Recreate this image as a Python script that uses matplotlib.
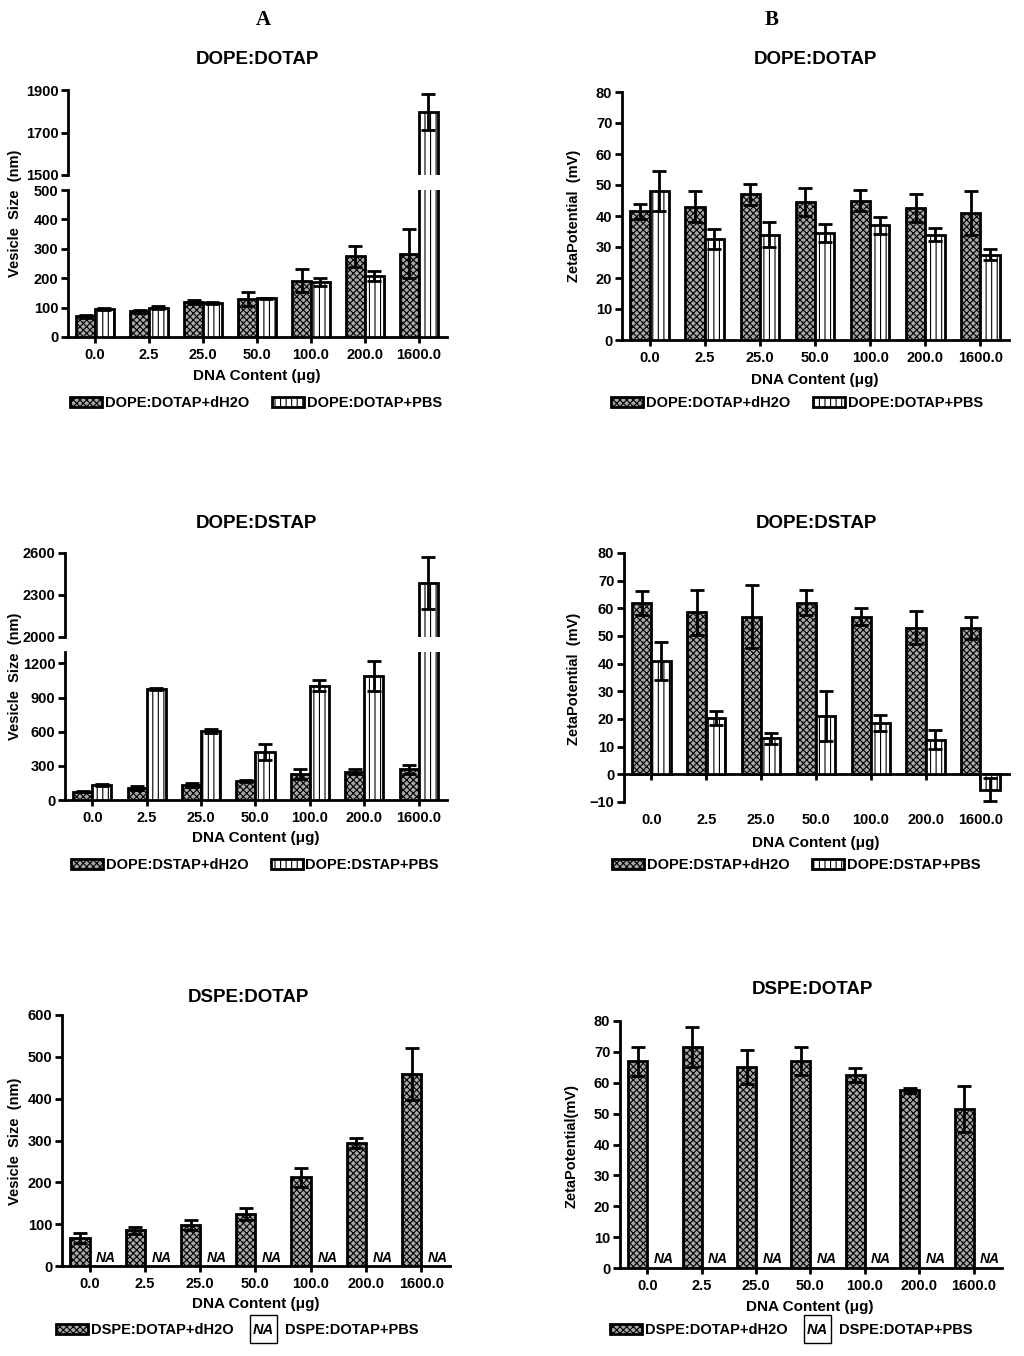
import matplotlib
matplotlib.use("Agg")
import numpy as np
import matplotlib.pyplot as plt
from matplotlib.patches import Patch, Rectangle
from matplotlib.legend_handler import HandlerBase
from matplotlib.text import Text

W, H = 1024, 1356

categories = ["0.0", "2.5", "25.0", "50.0", "100.0", "200.0", "1600.0"]

# A: vesicle size (nm)
dotap_size_h2o = [70, 87, 119, 130, 192, 274, 283]
dotap_size_h2o_err = [5, 5, 6, 23, 40, 37, 83]
dotap_size_pbs = [95, 99, 116, 132, 187, 208, 1797]
dotap_size_pbs_err = [4, 5, 4, 2, 12, 18, 85]

dstap_size_h2o = [72, 105, 130, 170, 228, 249, 270]
dstap_size_h2o_err = [6, 15, 15, 10, 40, 22, 40]
dstap_size_pbs = [135, 975, 606, 418, 1004, 1089, 2384]
dstap_size_pbs_err = [8, 10, 20, 70, 50, 135, 185]

dspe_size_h2o = [67, 85, 97, 124, 212, 294, 460]
dspe_size_h2o_err = [13, 9, 12, 15, 22, 13, 62]

# B: zeta potential (mV)
dotap_zeta_h2o = [41.5, 43, 47, 44.5, 45, 42.5, 41]
dotap_zeta_h2o_err = [2.5, 5, 3.3, 4.5, 3.5, 4.5, 7]
dotap_zeta_pbs = [48, 32.5, 34, 34.5, 37, 34, 27.5]
dotap_zeta_pbs_err = [6.5, 3.3, 4, 3, 2.8, 2, 1.8]

dstap_zeta_h2o = [62, 58.5, 57, 62, 57, 53, 53]
dstap_zeta_h2o_err = [4.3, 8, 11.5, 4.5, 3, 6, 4]
dstap_zeta_pbs = [41, 20.5, 13, 21, 18.5, 12.5, -5.5]
dstap_zeta_pbs_err = [7, 2.5, 2, 9, 3, 3.5, 4]

dspe_zeta_h2o = [67, 71.5, 65, 67, 62.5, 57.5, 51.5]
dspe_zeta_h2o_err = [4.7, 6.5, 5.5, 4.5, 2.2, 0.8, 7.3]

BAR_W = 0.35
H2O_FACE = "#a6a6a6"
H2O_HATCH = "xxxxx"
XLIM = (-0.5, 6.52)

plt.rcParams["font.family"] = ["Liberation Sans", "DejaVu Sans"]
plt.rcParams["font.weight"] = "bold"
plt.rcParams["hatch.linewidth"] = 0.8
plt.rcParams["hatch.color"] = "black"


def add_axes_px(fig, x0, y_top, x1, y_bottom):
    return fig.add_axes([x0 / W, 1 - y_bottom / H, (x1 - x0) / W, (y_bottom - y_top) / H])


def fig_text(fig, x, y, s, **kw):
    fig.text(x / W, 1 - y / H, s, **kw)


def style_axis(ax, show_bottom=True):
    ax.spines["top"].set_visible(False)
    ax.spines["right"].set_visible(False)
    ax.spines["left"].set_linewidth(2)
    ax.spines["bottom"].set_linewidth(2)
    ax.tick_params(axis="y", width=2, length=5, labelsize=10.5, pad=2)
    ax.tick_params(axis="x", width=2, length=4, labelsize=10.5, pad=4)
    ax.set_xlim(*XLIM)
    x = np.arange(len(categories))
    ax.set_xticks(x)
    if show_bottom:
        ax.set_xticklabels(categories)
    else:
        ax.spines["bottom"].set_visible(False)
        ax.tick_params(axis="x", bottom=False, labelbottom=False)


def draw_bars(ax, h2o, h2o_err, pbs=None, pbs_err=None):
    x = np.arange(len(categories))
    eb = dict(fmt="none", ecolor="black", elinewidth=2, capsize=5, capthick=2, zorder=4)
    ax.bar(x - BAR_W / 2, h2o, BAR_W, facecolor=H2O_FACE, edgecolor="black",
           hatch=H2O_HATCH, linewidth=2, zorder=3)
    ax.errorbar(x - BAR_W / 2, h2o, yerr=h2o_err, **eb)
    if pbs is not None:
        ax.bar(x + BAR_W / 2, pbs, BAR_W, facecolor="white", edgecolor="black",
               hatch="|||", linewidth=2, zorder=3)
        ax.errorbar(x + BAR_W / 2, pbs, yerr=pbs_err, **eb)
    else:
        for xi in x:
            ax.text(xi + 0.3, 3 if ax.get_ylim()[1] > 100 else 0.5, "NA",
                    ha="center", va="bottom", fontsize=10, fontstyle="italic",
                    fontweight="bold", zorder=5)


class NAHandler(HandlerBase):
    def create_artists(self, legend, orig_handle, xdescent, ydescent, width, height,
                       fontsize, trans):
        box_w = width * 0.85
        box_h = height * 2.6
        y0 = -ydescent + height / 2 - box_h / 2
        r = Rectangle((-xdescent, y0), box_w, box_h, facecolor="white",
                      edgecolor="black", linewidth=1, transform=trans)
        t = Text(-xdescent + box_w / 2, -ydescent + height / 2 - 1, "NA", ha="center",
                 va="center", fontsize=fontsize, fontstyle="italic", fontweight="bold",
                 transform=trans)
        return [r, t]


def add_legend(fig, cx, cy, labels, na=False):
    h2o_handle = Patch(facecolor=H2O_FACE, edgecolor="black", hatch=H2O_HATCH, linewidth=2)
    if na:
        pbs_handle = Patch(facecolor="white", edgecolor="black")
        hmap = {pbs_handle: NAHandler()}
        spacing = 1.1
    else:
        pbs_handle = Patch(facecolor="white", edgecolor="black", hatch="|||", linewidth=2)
        hmap = {}
        spacing = 1.5
    fig.legend([h2o_handle, pbs_handle], labels, loc="center",
               bbox_to_anchor=(cx / W, 1 - cy / H), ncol=2, frameon=False,
               prop={"size": 10.5, "weight": "bold"}, handlelength=2.2,
               handleheight=0.75, handletextpad=0.2, columnspacing=spacing,
               handler_map=hmap)


fig = plt.figure(figsize=(W / 100, H / 100), dpi=100)

fig_text(fig, 263, 20, "A", ha="center", va="center", fontsize=15,
         family=["Liberation Serif"], fontweight="bold")
fig_text(fig, 772, 20, "B", ha="center", va="center", fontsize=15,
         family=["Liberation Serif"], fontweight="bold")

TITLE_FS = 13.5
LABEL_FS = 10.5
XLABEL_FS = 11

# ---- A1: DOPE:DOTAP vesicle size (broken axis)
ax_up = add_axes_px(fig, 68, 90, 447, 175)
ax_lo = add_axes_px(fig, 68, 190, 447, 337)
for ax in (ax_up, ax_lo):
    draw_bars(ax, dotap_size_h2o, dotap_size_h2o_err, dotap_size_pbs, dotap_size_pbs_err)
ax_up.set_ylim(1500, 1900)
ax_up.set_yticks([1500, 1700, 1900])
ax_lo.set_ylim(0, 500)
ax_lo.set_yticks(range(0, 501, 100))
style_axis(ax_up, show_bottom=False)
style_axis(ax_lo)
fig_text(fig, 257, 60, "DOPE:DOTAP", ha="center", va="center", fontsize=TITLE_FS)
fig_text(fig, 15, 213, "Vesicle  Size  (nm)", ha="center", va="center", rotation=90, fontsize=LABEL_FS)
fig_text(fig, 257, 376, "DNA Content (\u03bcg)", ha="center", va="center", fontsize=XLABEL_FS)
add_legend(fig, 256, 403, ["DOPE:DOTAP+dH2O", "DOPE:DOTAP+PBS"])

# ---- B1: DOPE:DOTAP zeta potential
ax = add_axes_px(fig, 622, 92, 1009, 340)
draw_bars(ax, dotap_zeta_h2o, dotap_zeta_h2o_err, dotap_zeta_pbs, dotap_zeta_pbs_err)
ax.set_ylim(0, 80)
ax.set_yticks(range(0, 81, 10))
style_axis(ax)
fig_text(fig, 815, 60, "DOPE:DOTAP", ha="center", va="center", fontsize=TITLE_FS)
fig_text(fig, 574, 216, "ZetaPotential  (mV)", ha="center", va="center", rotation=90, fontsize=LABEL_FS)
fig_text(fig, 815, 380, "DNA Content (\u03bcg)", ha="center", va="center", fontsize=XLABEL_FS)
add_legend(fig, 797, 403, ["DOPE:DOTAP+dH2O", "DOPE:DOTAP+PBS"])

# ---- A2: DOPE:DSTAP vesicle size (broken axis)
ax_up = add_axes_px(fig, 65, 553, 447, 637)
ax_lo = add_axes_px(fig, 65, 652, 447, 800)
for ax in (ax_up, ax_lo):
    draw_bars(ax, dstap_size_h2o, dstap_size_h2o_err, dstap_size_pbs, dstap_size_pbs_err)
ax_up.set_ylim(2000, 2600)
ax_up.set_yticks([2000, 2300, 2600])
ax_lo.set_ylim(0, 1300)
ax_lo.set_yticks(range(0, 1201, 300))
style_axis(ax_up, show_bottom=False)
style_axis(ax_lo)
fig_text(fig, 256, 523, "DOPE:DSTAP", ha="center", va="center", fontsize=TITLE_FS)
fig_text(fig, 15, 676, "Vesicle  Size  (nm)", ha="center", va="center", rotation=90, fontsize=LABEL_FS)
fig_text(fig, 256, 838, "DNA Content (\u03bcg)", ha="center", va="center", fontsize=XLABEL_FS)
add_legend(fig, 255, 865, ["DOPE:DSTAP+dH2O", "DOPE:DSTAP+PBS"])

# ---- B2: DOPE:DSTAP zeta potential (axis line at zero)
ax = add_axes_px(fig, 624, 553, 1009, 802)
draw_bars(ax, dstap_zeta_h2o, dstap_zeta_h2o_err, dstap_zeta_pbs, dstap_zeta_pbs_err)
ax.set_ylim(-10, 80)
ax.set_yticks(range(-10, 81, 10))
style_axis(ax)
ax.spines["bottom"].set_position(("data", 0))
ax.tick_params(axis="x", pad=24)
fig_text(fig, 816, 523, "DOPE:DSTAP", ha="center", va="center", fontsize=TITLE_FS)
fig_text(fig, 574, 679, "ZetaPotential  (mV)", ha="center", va="center", rotation=90, fontsize=LABEL_FS)
fig_text(fig, 816, 843, "DNA Content (\u03bcg)", ha="center", va="center", fontsize=XLABEL_FS)
add_legend(fig, 796, 865, ["DOPE:DSTAP+dH2O", "DOPE:DSTAP+PBS"])

# ---- A3: DSPE:DOTAP vesicle size
ax = add_axes_px(fig, 62, 1015, 450, 1266)
ax.set_ylim(0, 600)
draw_bars(ax, dspe_size_h2o, dspe_size_h2o_err)
ax.set_yticks(range(0, 601, 100))
style_axis(ax)
fig_text(fig, 248, 998, "DSPE:DOTAP", ha="center", va="center", fontsize=TITLE_FS)
fig_text(fig, 15, 1141, "Vesicle  Size  (nm)", ha="center", va="center", rotation=90, fontsize=LABEL_FS)
fig_text(fig, 256, 1304, "DNA Content (\u03bcg)", ha="center", va="center", fontsize=XLABEL_FS)
add_legend(fig, 237, 1330, ["DSPE:DOTAP+dH2O", "DSPE:DOTAP+PBS"], na=True)

# ---- B3: DSPE:DOTAP zeta potential
ax = add_axes_px(fig, 620, 1021, 1002, 1268)
ax.set_ylim(0, 80)
draw_bars(ax, dspe_zeta_h2o, dspe_zeta_h2o_err)
ax.set_yticks(range(0, 81, 10))
style_axis(ax)
fig_text(fig, 812, 990, "DSPE:DOTAP", ha="center", va="center", fontsize=TITLE_FS)
fig_text(fig, 572, 1146, "ZetaPotential(mV)", ha="center", va="center", rotation=90, fontsize=LABEL_FS)
fig_text(fig, 810, 1307, "DNA Content (\u03bcg)", ha="center", va="center", fontsize=XLABEL_FS)
add_legend(fig, 791, 1330, ["DSPE:DOTAP+dH2O", "DSPE:DOTAP+PBS"], na=True)

fig.savefig("out.png", dpi=100)
plt.close(fig)
